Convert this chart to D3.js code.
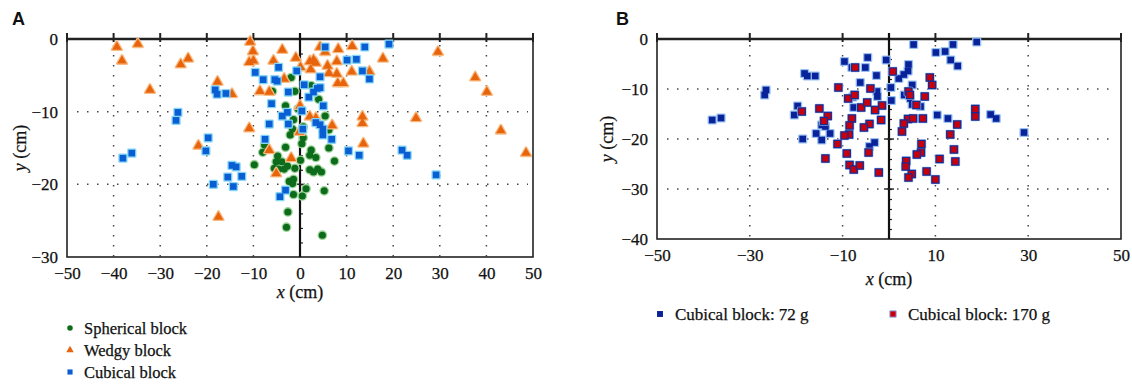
<!DOCTYPE html>
<html>
<head>
<meta charset="utf-8">
<script src="https://cdn.jsdelivr.net/npm/d3@7"></script>
<style>
  body { margin: 0; background: #fff; }
  text { font-family: "Liberation Serif", "Times New Roman", serif; fill: #111; stroke: #111; stroke-width: 0.25px; }
  text.tag { font-family: "Liberation Sans", Arial, sans-serif; font-weight: bold; stroke: none; }
</style>
</head>
<body>
<script>
// ---- panel A data (x cm, y cm) ----
const xTicksA = [-50, -40, -30, -20, -10, 0, 10, 20, 30, 40, 50];
const yTicksA = [0, -10, -20, -30];
const gridXA = [-40, -30, -20, -10, 10, 20, 30, 40];
const gridYA = [-10, -20];

const spherical = [
  [-1.9, -5.3], [2.4, -6.4], [-5.9, -7.2], [-1.1, -7.2], [4.0, -8.3], [-3.1, -9.2],
  [-0.4, -9.6], [5.4, -10.6], [-1.4, -11.1], [-1.6, -12.4], [0.7, -12.1], [-2.1, -13.2],
  [6.2, -12.5], [0.7, -13.6], [0.4, -14.4], [-7.6, -14.6], [-3.1, -14.9], [-8.0, -15.6],
  [6.2, -15.0], [2.4, -15.3], [2.1, -16.0], [-4.8, -16.1], [3.4, -16.3], [-5.1, -16.9],
  [-3.9, -16.9], [0.1, -16.7], [7.4, -16.8], [-9.8, -17.3], [-2.7, -17.5], [-5.5, -17.8],
  [-4.6, -17.9], [-3.4, -17.9], [-1.1, -17.8], [2.1, -18.0], [2.9, -18.3], [3.8, -17.9],
  [4.6, -18.3], [-2.3, -19.6], [-1.4, -19.3], [-1.6, -19.9], [1.3, -20.6], [5.2, -20.9],
  [-1.4, -21.4], [0.5, -21.6], [-2.6, -23.8], [-2.9, -25.9], [4.8, -27.0]
];

const wedgy = [
  [-10.7, -0.4], [-10.1, -1.7], [-3.8, -1.5], [-10.9, -3.2], [-10.0, -3.0], [-5.7, -3.0],
  [-0.9, -2.6], [4.3, -1.1], [5.4, -1.8], [8.2, -1.4], [11.2, -1.0], [2.1, -3.1],
  [2.9, -2.9], [3.4, -3.3], [0.1, -3.9], [5.9, -3.7], [7.9, -3.1], [2.3, -4.2],
  [6.2, -4.7], [7.9, -4.8], [11.1, -4.5], [14.9, -4.5], [-3.4, -5.5], [8.1, -6.1],
  [9.3, -6.1], [-8.6, -7.2], [-6.6, -7.3], [-14.6, -7.6], [0.0, -9.2], [2.1, -10.7],
  [3.4, -10.9], [6.9, -11.9], [13.4, -10.7], [13.4, -11.6], [-10.9, -12.3], [-0.1, -12.8],
  [13.6, -14.4], [-6.6, -15.3], [-1.9, -16.4], [-5.1, -18.5],
  [-39.3, -1.1], [-34.8, -0.7], [-38.2, -3.0], [-32.2, -7.0], [-25.6, -3.5], [-24.0, -2.7],
  [-17.7, -5.9], [-21.8, -14.7], [-17.5, -24.5], [17.8, -2.7], [29.6, -1.8], [37.6, -5.3],
  [40.1, -7.3], [24.9, -10.9], [43.1, -12.6], [48.5, -15.7]
];

const cubical = [
  [5.4, -1.1], [13.9, -1.1], [10.1, -2.9], [12.1, -2.8], [-4.6, -3.9], [-0.7, -4.4],
  [-9.6, -4.6], [-7.9, -5.6], [-5.4, -5.6], [-4.9, -5.8], [4.3, -5.2], [13.4, -4.4],
  [14.9, -5.5], [0.9, -6.3], [3.7, -6.8], [4.3, -6.7], [2.9, -7.3], [-2.5, -7.3],
  [1.9, -8.0], [-6.1, -8.9], [5.0, -9.2], [0.4, -9.9], [-2.7, -10.1], [-3.8, -10.6],
  [0.6, -12.4], [-6.6, -11.7], [-2.5, -11.7], [3.4, -11.5], [4.3, -11.8], [4.9, -12.4],
  [4.9, -13.2], [6.8, -13.8], [-7.5, -13.8], [10.4, -15.4], [12.7, -16.0], [-14.6, -17.4],
  [-13.7, -17.6], [-12.5, -18.9], [-14.3, -20.3], [-3.1, -20.8], [-4.3, -21.7],
  [-26.2, -10.1], [-26.6, -11.2], [-19.7, -13.6], [-18.2, -7.0], [-17.8, -7.6], [-15.9, -7.5],
  [-38.0, -16.4], [-36.1, -15.7], [-20.2, -15.4], [-18.6, -20.0], [-15.5, -19.0],
  [19.1, -0.7], [21.9, -15.3], [23.0, -16.0], [29.2, -18.7]
];

// ---- panel B data (x cm, y cm) ----
const xTicksB = [-50, -30, -10, 10, 30, 50];
const yTicksB = [0, -10, -20, -30, -40];
const gridXB = [-30, -10, 10, 30];
const gridYB = [-10, -20, -30];

const cube72 = [
  [5.3, -1.1], [13.8, -1.1], [18.9, -0.6], [10.1, -2.7], [12.1, -2.5], [13.3, -4.2],
  [14.8, -5.4], [-4.6, -3.7], [-0.6, -4.2], [-9.6, -4.5], [-8.0, -5.7], [-5.1, -5.7],
  [-2.7, -7.3], [4.2, -5.1], [4.1, -6.4], [3.2, -7.1], [2.1, -7.9], [-18.2, -6.9],
  [-17.6, -7.4], [-15.9, -7.4], [-6.2, -8.7], [-2.6, -10.5], [-2.5, -11.5], [0.4, -9.7],
  [0.5, -12.3], [5.0, -9.2], [3.3, -11.2], [4.6, -11.9], [5.0, -13.1], [6.8, -13.5],
  [-7.6, -13.7], [-7.8, -11.6], [-19.7, -13.4], [-20.4, -15.2], [-14.5, -17.2], [-13.7, -17.5],
  [-15.7, -18.9], [-12.7, -18.9], [-18.6, -20.0], [-14.5, -20.2], [10.4, -15.2], [12.7, -15.9],
  [21.9, -15.1], [23.1, -15.9], [-3.1, -20.7], [-4.2, -21.5], [-38.1, -16.2], [-36.2, -15.8],
  [-26.5, -10.2], [-26.8, -11.2], [29.1, -18.7]
];

const cube170 = [
  [-7.3, -5.7], [0.8, -6.5], [8.8, -7.7], [9.3, -9.2], [-10.9, -9.7], [-4.0, -9.9],
  [-8.8, -11.9], [-7.4, -11.2], [4.2, -10.5], [4.5, -11.2], [7.7, -11.5], [5.9, -13.2],
  [-1.5, -13.3], [-6.0, -13.7], [-4.7, -12.7], [-3.0, -14.2], [-15.0, -13.9], [-18.8, -14.5],
  [-13.2, -15.4], [-14.0, -16.4], [-8.0, -15.9], [-8.5, -17.3], [-4.2, -17.0], [-5.4, -17.7],
  [-1.7, -16.2], [4.1, -16.0], [5.2, -15.9], [7.3, -15.9], [18.6, -14.0], [18.6, -15.5],
  [14.7, -17.1], [3.2, -16.9], [2.8, -18.5], [13.2, -19.1], [-8.6, -19.1], [-9.6, -19.3],
  [-11.1, -21.0], [7.0, -21.0], [6.9, -22.7], [6.0, -23.1], [14.0, -22.1], [14.3, -24.5],
  [10.9, -24.0], [3.7, -24.4], [3.6, -25.5], [4.9, -27.0], [4.2, -27.7], [8.1, -26.5],
  [10.0, -28.1], [-9.1, -22.9], [-4.4, -22.7], [-13.7, -23.9], [-8.5, -25.2], [-7.6, -26.1],
  [-6.3, -25.3], [-2.2, -26.7]
];

const svg = d3.select('body').append('svg')
  .attr('width', 1132)
  .attr('height', 385);

// a marker with a soft halo underneath
function markers(g, data, x, y, m) {
  const sym = d3.symbol().type(m.type).size(m.size);
  const halo = g.append('g');
  const fg = g.append('g');
  halo.selectAll('path').data(data).join('path')
    .attr('d', sym)
    .attr('transform', d => `translate(${x(d[0])},${y(d[1])})`)
    .attr('fill', m.halo)
    .attr('stroke', m.halo)
    .attr('stroke-width', 2.6)
    .attr('stroke-linejoin', 'round');
  fg.selectAll('path').data(data).join('path')
    .attr('d', sym)
    .attr('transform', d => `translate(${x(d[0])},${y(d[1])})`)
    .attr('fill', m.fill)
    .attr('stroke', m.stroke || 'none')
    .attr('stroke-width', m.stroke ? 1.3 : 0);
}

function drawPanel(p) {
  const g = svg.append('g');
  const x = d3.scaleLinear().domain([-50, 50]).range([p.left, p.right]);
  const y = d3.scaleLinear().domain([p.ymin, 0]).range([p.bottom, p.top]);

  // dotted grid
  g.append('g').selectAll('line').data(p.gridX).join('line')
    .attr('x1', d => x(d)).attr('x2', d => x(d))
    .attr('y1', p.top + 6).attr('y2', p.bottom)
    .attr('stroke', '#444').attr('stroke-width', 1.5)
    .attr('stroke-dasharray', '1.5,8.5');
  g.append('g').selectAll('line').data(p.gridY).join('line')
    .attr('x1', p.left + 10).attr('x2', p.right - 5)
    .attr('y1', d => y(d)).attr('y2', d => y(d))
    .attr('stroke', '#444').attr('stroke-width', 1.5)
    .attr('stroke-dasharray', '1.5,8.5');

  // frame
  g.append('rect')
    .attr('x', p.left).attr('y', p.top)
    .attr('width', p.right - p.left).attr('height', p.bottom - p.top)
    .attr('fill', 'none').attr('stroke', '#222').attr('stroke-width', 1.6);
  g.append('line')
    .attr('x1', p.left).attr('x2', p.right)
    .attr('y1', p.top).attr('y2', p.top)
    .attr('stroke', '#222').attr('stroke-width', 2.4);

  // major ticks across the top axis
  g.append('g').selectAll('line').data(p.topTicks).join('line')
    .attr('x1', d => x(d)).attr('x2', d => x(d))
    .attr('y1', p.top - 6).attr('y2', p.top + 3)
    .attr('stroke', '#222').attr('stroke-width', 2);

  // zero line with minor ticks
  const zero = g.append('g').attr('transform', `translate(${x(0)},0)`)
    .call(d3.axisRight(y).tickValues(d3.range(p.ymin + 2, 0, 2)).tickSize(3).tickFormat(''));
  zero.select('.domain').remove();
  zero.selectAll('.tick line').attr('stroke', '#222').attr('stroke-width', 1.2);
  g.append('line')
    .attr('x1', x(0)).attr('x2', x(0))
    .attr('y1', p.top - 6).attr('y2', p.bottom)
    .attr('stroke', '#111').attr('stroke-width', 2.2);
  g.append('g').selectAll('line').data(p.gridY).join('line')
    .attr('x1', x(0) - 5).attr('x2', x(0) + 5)
    .attr('y1', d => y(d)).attr('y2', d => y(d))
    .attr('stroke', '#222').attr('stroke-width', 1.4);

  // axes labels
  const ax = g.append('g').attr('transform', `translate(0,${p.bottom})`)
    .call(d3.axisBottom(x).tickValues(p.xTicks).tickSize(0).tickPadding(p.xPad));
  ax.select('.domain').remove();
  ax.selectAll('text').attr('font-size', 17);

  const ay = g.append('g').attr('transform', `translate(${p.left},0)`)
    .call(d3.axisLeft(y).tickValues(p.yTicks).tickSize(0).tickPadding(9));
  ay.select('.domain').remove();
  ay.selectAll('text').attr('font-size', 17);

  const xl = g.append('text')
    .attr('x', x(0)).attr('y', p.xLabelY)
    .attr('text-anchor', 'middle').attr('font-size', 18);
  xl.append('tspan').attr('font-style', 'italic').text('x');
  xl.append('tspan').text(' (cm)');

  const yl = g.append('text')
    .attr('transform', `translate(${p.yLabelX},${(p.top + p.bottom) / 2}) rotate(-90)`)
    .attr('text-anchor', 'middle').attr('font-size', 18);
  yl.append('tspan').attr('font-style', 'italic').text('y');
  yl.append('tspan').text(' (cm)');

  g.append('text').attr('class', 'tag')
    .attr('x', p.tagX).attr('y', 25)
    .attr('font-size', 18)
    .text(p.tag);

  p.series.forEach(s => markers(g, s.data, x, y, s));
  return g;
}

const sphereM = { type: d3.symbolCircle, size: 40, fill: '#0d6b1c', halo: '#9fd59a' };
const wedgeM = { type: d3.symbolTriangle, size: 40, fill: '#e8640c', halo: '#f8bb82' };
const cubeM = { type: d3.symbolSquare, size: 44, fill: '#0a5ed4', halo: '#86d6f6' };
const c72M = { type: d3.symbolSquare, size: 44, fill: '#0a2299', halo: '#97c1f2' };
const c170M = { type: d3.symbolSquare, size: 50, fill: '#c8000e', stroke: '#1a2a8e', halo: '#a6c8f4' };

drawPanel({
  tag: 'A', tagX: 12,
  left: 67, right: 533, top: 39, bottom: 257, ymin: -30,
  xTicks: xTicksA, yTicks: yTicksA, gridX: gridXA, gridY: gridYA,
  topTicks: xTicksA, xPad: 10, xLabelY: 298, yLabelX: 26,
  series: [
    Object.assign({ data: spherical }, sphereM),
    Object.assign({ data: wedgy }, wedgeM),
    Object.assign({ data: cubical }, cubeM)
  ]
});

drawPanel({
  tag: 'B', tagX: 616,
  left: 657, right: 1121, top: 39, bottom: 239, ymin: -40,
  xTicks: xTicksB, yTicks: yTicksB, gridX: gridXB, gridY: gridYB,
  topTicks: xTicksB, xPad: 10, xLabelY: 285, yLabelX: 613,
  series: [
    Object.assign({ data: cube72 }, c72M),
    Object.assign({ data: cube170 }, c170M)
  ]
});

// legends
const legendA = [
  { label: 'Spherical block', m: sphereM },
  { label: 'Wedgy block', m: wedgeM },
  { label: 'Cubical block', m: cubeM }
];
const lgA = svg.append('g').attr('transform', 'translate(70,328)');
legendA.forEach((d, i) => {
  const row = lgA.append('g').attr('transform', `translate(0,${i * 22})`);
  row.append('path')
    .attr('d', d3.symbol().type(d.m.type).size(d.m.size * 0.6)())
    .attr('fill', d.m.fill);
  row.append('text').attr('x', 14).attr('y', 5.5).attr('font-size', 16.5).text(d.label);
});

const legendB = [
  { label: 'Cubical block: 72 g', m: c72M, x: 660 },
  { label: 'Cubical block: 170 g', m: c170M, x: 893 }
];
legendB.forEach(d => {
  const row = svg.append('g').attr('transform', `translate(${d.x},314)`);
  row.append('path')
    .attr('d', d3.symbol().type(d.m.type).size(d.m.size * 0.8)())
    .attr('fill', d.m.fill)
    .attr('stroke', d.m.stroke ? '#8fb4ee' : 'none')
    .attr('stroke-width', 1);
  row.append('text').attr('x', 15).attr('y', 5.5).attr('font-size', 17).text(d.label);
});
</script>
</body>
</html>
